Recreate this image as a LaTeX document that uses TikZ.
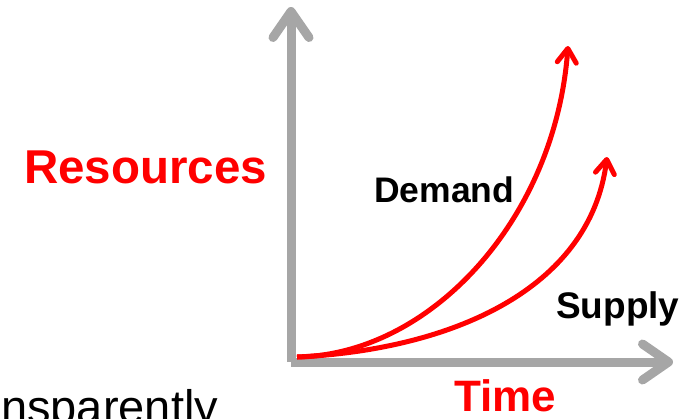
\documentclass[tikz,border=0pt]{standalone}
\usepackage{fontspec}
\setmainfont{Liberation Sans}
\usepackage{xcolor}
\usepackage{tikz}
\usetikzlibrary{arrows.meta}
\definecolor{axisgray}{RGB}{166,166,166}
\definecolor{curvered}{RGB}{255,0,0}

\begin{document}
\begin{tikzpicture}[x=1pt,y=-1pt,
  axis/.style={axisgray,line width=9pt,-{Straight Barb[length=26pt,width=36pt,line cap=round,line join=round]}},
  curve/.style={curvered,line width=5pt,-{Straight Barb[length=14pt,width=19pt,line cap=round,line join=round]}},
  lbl/.style={inner sep=0pt,anchor=base west}]
  \useasboundingbox (0,0) rectangle (688,418);
  % axes
  \coordinate (origin) at (291,362);
  \coordinate (ytop) at (291,7);
  \coordinate (xend) at (673,362);
  \draw [axis] (origin) -- (ytop);
  \draw [axis] (origin) -- (xend);
  % demand and supply
  \coordinate (start) at (297,357);
  \coordinate (demandtip) at (568,46);
  \coordinate (supplytip) at (607,157);
  \draw [curve] (start) .. controls (430,355) and (555,220) .. (demandtip);
  \draw [curve] (start) .. controls (450,350) and (590,290) .. (supplytip);
  % labels
  \node [lbl,curvered,font=\fontsize{47.5}{52}\selectfont\bfseries] (resources) at (24,183) {Resources};
  \node [lbl,font=\fontsize{35.5}{40}\selectfont\bfseries] (demand) at (374,202) {Demand};
  \node [lbl,font=\fontsize{37}{42}\selectfont\bfseries] (supply) at (556,318) {Supply};
  \node [lbl,curvered,font=\fontsize{44}{48}\selectfont\bfseries] (time) at (454,411) {Time};
  \node [lbl,font=\fontsize{47}{52}\selectfont] (cut) at (1,423) {nsparently};
\end{tikzpicture}
\end{document}
